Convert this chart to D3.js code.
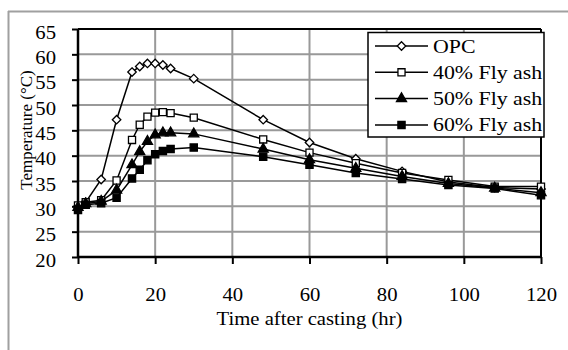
<!DOCTYPE html>
<html><head><meta charset="utf-8">
<script src="https://cdn.jsdelivr.net/npm/d3@7"></script>
<style>html,body{margin:0;padding:0;background:#fff;}svg{display:block;}</style>
</head><body>
<svg id="chart" width="568" height="350"></svg>
<script>
const time = [0,2,6,10,14,16,18,20,22,24,30,48,60,72,84,96,108,120];
const opc  = [30.0,30.8,35.3,47.1,56.5,57.6,58.2,58.2,57.9,57.2,55.2,47.1,42.6,39.4,36.9,34.8,33.7,33.4];
const fa40 = [30.2,30.8,31.2,35.1,43.1,46.1,47.7,48.5,48.6,48.4,47.5,43.2,40.6,38.5,36.6,35.2,33.9,33.9];
const fa50 = [29.8,30.5,31.0,33.2,38.2,40.8,42.8,44.1,44.5,44.5,44.3,41.3,39.2,37.5,35.9,34.5,33.6,32.7];
const fa60 = [29.3,30.3,30.6,31.7,35.5,37.2,39.1,40.3,40.9,41.3,41.6,39.8,38.2,36.6,35.4,34.2,33.5,32.2];
const seriesNames = ["OPC","40% Fly ash","50% Fly ash","60% Fly ash"];
const xTicks = [0,20,40,60,80,100,120];
const yTicks = [20,25,30,35,40,45,50,55,60,65];
const xTitle = "Time after casting (hr)";
const yTitle = "Temperature (°C)";

const series = [
  {name: seriesNames[0], values: opc,  sym: d3.symbolDiamond2, fill: "#fff", size: 46},
  {name: seriesNames[1], values: fa40, sym: d3.symbolSquare2,  fill: "#fff", size: 64},
  {name: seriesNames[2], values: fa50, sym: d3.symbolTriangle, fill: "#000", size: 44},
  {name: seriesNames[3], values: fa60, sym: d3.symbolSquare,   fill: "#000", size: 52}
];

const svg = d3.select("#chart");
const FONT = '"Liberation Serif", "Times New Roman", serif';
const SX = 1.15;
function serif(sel, size){
  return sel.style("font-family", FONT).style("font-size", size + "px").attr("fill","#000");
}
// place horizontally-stretched text at (px,py)
function stext(parent, px, py, size, anchor, str){
  return serif(parent.append("text")
    .attr("transform",`translate(${px},${py}) scale(${SX},1)`)
    .attr("text-anchor",anchor), size).text(str);
}

// outer frame
svg.append("line").attr("x1",8).attr("x2",568).attr("y1",11.5).attr("y2",11.5).attr("stroke","#a0a0a0").attr("stroke-width",2);
svg.append("line").attr("x1",8.5).attr("x2",8.5).attr("y1",11).attr("y2",350).attr("stroke","#a0a0a0").attr("stroke-width",2);

const x = d3.scaleLinear().domain([0,120]).range([78,541]);
const y = d3.scaleLinear().domain([20,65]).range([257,29]);

// grid
const g = svg.append("g");
g.selectAll(".vg").data(xTicks).join("line")
  .attr("x1",d=>x(d)).attr("x2",d=>x(d)).attr("y1",y(65)).attr("y2",y(20))
  .attr("stroke","#999").attr("stroke-width",2);
g.selectAll(".hg").data(yTicks).join("line")
  .attr("x1",x(0)).attr("x2",x(120)).attr("y1",d=>y(d)).attr("y2",d=>y(d))
  .attr("stroke","#999").attr("stroke-width",2);

// frame top/right
svg.append("line").attr("x1",x(0)).attr("x2",x(120)).attr("y1",y(65)).attr("y2",y(65)).attr("stroke","#000").attr("stroke-width",2);
svg.append("line").attr("x1",x(120)).attr("x2",x(120)).attr("y1",y(65)).attr("y2",y(20)).attr("stroke","#000").attr("stroke-width",2);

// axes
const xAxis = svg.append("g").attr("transform",`translate(0,${y(20)})`)
  .call(d3.axisBottom(x).tickValues(xTicks).tickSize(7).tickFormat(d3.format("d")));
const yAxis = svg.append("g").attr("transform",`translate(${x(0)},0)`)
  .call(d3.axisLeft(y).tickValues(yTicks).tickSize(6).tickFormat(d3.format("d")));
[xAxis,yAxis].forEach(a=>{
  a.attr("font-family",null).attr("font-size",null);
  a.select(".domain").attr("stroke","#000").attr("stroke-width",2.5);
  a.selectAll(".tick line").attr("stroke","#000").attr("stroke-width",2);
  serif(a.selectAll("text"), 18);
});
xAxis.select(".domain").attr("d",`M${x(0)},0H${x(120)}`);
yAxis.select(".domain").attr("d",`M0,${y(20)}V${y(65)}`);
xAxis.selectAll(".tick text").attr("x",0).attr("y",0).attr("dy",null)
  .attr("transform",`translate(0,44) scale(${SX},1)`);
yAxis.selectAll(".tick text").attr("x",0).attr("y",0).attr("dy","0.5em")
  .attr("transform",`translate(-22,0) scale(${SX},1)`);

// lines and markers
const line = d3.line().x((d,i)=>x(time[i])).y(d=>y(d));
series.forEach(s=>{
  svg.append("path").datum(s.values).attr("d",line).attr("fill","none").attr("stroke","#000").attr("stroke-width",1.5);
});
series.forEach(s=>{
  svg.append("g").selectAll("path").data(s.values).join("path")
    .attr("d",d3.symbol(s.sym,s.size))
    .attr("transform",(d,i)=>`translate(${x(time[i])},${y(d)})`)
    .attr("fill",s.fill).attr("stroke","#000").attr("stroke-width",1.3);
});

// axis titles
stext(svg, (x(0)+x(120))/2, 325, 18, "middle", xTitle);
serif(svg.append("text").attr("transform","translate(32,130) rotate(-90)").attr("text-anchor","middle"), 17).text(yTitle);

// legend
const lg = svg.append("g");
lg.append("rect").attr("x",368).attr("y",32.5).attr("width",176).attr("height",104.5)
  .attr("fill","#fff").attr("stroke","#000").attr("stroke-width",1.5);
series.forEach((s,i)=>{
  const cy = 46 + i*26.3;
  lg.append("line").attr("x1",375).attr("x2",428).attr("y1",cy).attr("y2",cy).attr("stroke","#000").attr("stroke-width",1.5);
  lg.append("path").attr("d",d3.symbol(s.sym,s.size)).attr("transform",`translate(401.5,${cy})`)
    .attr("fill",s.fill).attr("stroke","#000").attr("stroke-width",1.3);
  stext(lg, 433, cy + 6.5, 19, "start", s.name);
});
</script>
</body></html>
